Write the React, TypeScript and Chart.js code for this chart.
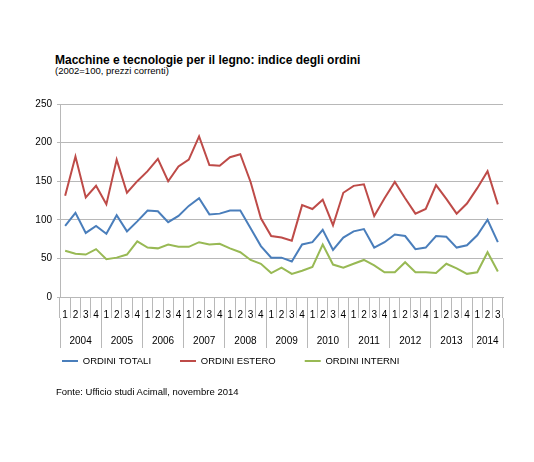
import React, { useEffect, useRef } from "react";
import { Chart, registerables } from "chart.js";

Chart.register(...registerables);

const FONT = '"Liberation Sans", Arial, sans-serif';

const years = ["2004", "2005", "2006", "2007", "2008", "2009", "2010", "2011", "2012", "2013", "2014"];
const quartersPerYear = [4, 4, 4, 4, 4, 4, 4, 4, 4, 4, 3];
const quarterLabels = quartersPerYear.flatMap((n) => ["1", "2", "3", "4"].slice(0, n));

const ordiniTotali = [92, 109, 83, 92, 82, 106, 85, 98, 112, 111, 97, 105, 118, 128, 107, 108, 112, 112, 89, 66, 51, 51, 46, 68, 71, 87, 61, 77, 85, 88, 64, 71, 81, 79, 62, 64, 79, 78, 64, 67, 80, 100, 71];
const ordiniEstero = [131, 182, 129, 144, 120, 178, 135, 150, 163, 179, 150, 169, 178, 208, 171, 170, 181, 185, 149, 102, 79, 77, 73, 119, 114, 126, 93, 135, 144, 146, 105, 128, 149, 128, 108, 114, 145, 127, 108, 121, 141, 163, 120];
const ordiniInterni = [60, 56, 55, 62, 49, 51, 55, 72, 64, 63, 68, 65, 65, 71, 68, 69, 63, 58, 48, 43, 31, 38, 30, 34, 39, 68, 42, 38, 43, 48, 41, 32, 32, 45, 32, 32, 31, 43, 37, 30, 32, 58, 33];

const GRID = "#b8b8b8";

// year boundaries and year midpoints, in category-index units
const boundaries: number[] = [];
const midpoints = new Map<number, string>();
{
  let start = -0.5;
  years.forEach((y, i) => {
    boundaries.push(start);
    midpoints.set(start + quartersPerYear[i] / 2, y);
    start += quartersPerYear[i];
  });
  boundaries.push(start);
}

const App: React.FC = () => {
  const canvasRef = useRef<HTMLCanvasElement>(null);

  useEffect(() => {
    const ctx = canvasRef.current?.getContext("2d");
    if (!ctx) return;

    const chart = new Chart(ctx, {
      type: "line",
      data: {
        labels: quarterLabels,
        datasets: [
          { label: "ORDINI TOTALI", data: ordiniTotali, borderColor: "#4a7ebb", backgroundColor: "#4a7ebb" },
          { label: "ORDINI ESTERO", data: ordiniEstero, borderColor: "#be4b48", backgroundColor: "#be4b48" },
          { label: "ORDINI INTERNI", data: ordiniInterni, borderColor: "#98b954", backgroundColor: "#98b954" },
        ],
      },
      options: {
        responsive: false,
        animation: false,
        layout: { padding: { left: 33, top: 104, right: 31, bottom: 86.25 } },
        elements: { line: { borderWidth: 2, tension: 0 }, point: { radius: 0 } },
        scales: {
          x: {
            type: "category",
            offset: true,
            grid: { offset: true, drawOnChartArea: false, tickLength: 21, color: GRID },
            border: { color: GRID },
            ticks: { autoSkip: false, maxRotation: 0, padding: -9, color: "#000", font: { size: 10, family: FONT } },
            afterFit: (scale) => { scale.height = 21; },
          },
          x2: {
            type: "linear",
            position: "bottom",
            min: -0.5,
            max: quarterLabels.length - 0.5,
            afterBuildTicks: (axis) => {
              const t: { value: number }[] = [];
              boundaries.forEach((b, i) => {
                t.push({ value: b });
                if (i < years.length) t.push({ value: b + quartersPerYear[i] / 2 });
              });
              axis.ticks = t;
            },
            grid: {
              drawOnChartArea: false,
              tickLength: 30,
              color: (c) => (boundaries.includes(c.tick?.value) ? GRID : "rgba(255,255,255,0)"),
            },
            border: { display: false },
            ticks: {
              autoSkip: false,
              maxRotation: 0,
              mirror: true, // keeps the year labels from being clipped to the short axis box
              padding: -29,
              color: "#000",
              font: { size: 10, family: FONT },
              callback: (v) => midpoints.get(Number(v)) ?? "",
            },
            afterFit: (scale) => { scale.height = 9.25; },
          },
          y: {
            min: 0,
            max: 250,
            ticks: { stepSize: 50, padding: 5, color: "#000", font: { size: 10, family: FONT } },
            grid: { color: GRID, tickLength: 3 },
            border: { color: GRID },
            afterFit: (scale) => { scale.width = 27; },
          },
        },
        plugins: {
          legend: {
            position: "bottom",
            align: "start",
            labels: { boxWidth: 16, boxHeight: 0, padding: 29, color: "#000", font: { size: 9.5, family: FONT } },
          },
          tooltip: { enabled: false },
        },
      },
    });
    return () => chart.destroy();
  }, []);

  return (
    <div style={{ position: "absolute", left: 0, top: 0, width: 534, height: 462, background: "#fff", fontFamily: FONT, color: "#000" }}>
      <div style={{ position: "absolute", left: 55, top: 53, fontSize: 12, fontWeight: "bold", lineHeight: "14px", whiteSpace: "nowrap" }}>
        Macchine e tecnologie per il legno: indice degli ordini
      </div>
      <div style={{ position: "absolute", left: 55, top: 65, fontSize: 9.5, lineHeight: "11px", whiteSpace: "nowrap" }}>
        (2002=100, prezzi correnti)
      </div>
      <canvas ref={canvasRef} width={534} height={462} style={{ position: "absolute", left: 0, top: 0 }}></canvas>
      <div style={{ position: "absolute", left: 56, top: 385.5, fontSize: 9.5, lineHeight: "11px", whiteSpace: "nowrap" }}>
        Fonte: Ufficio studi Acimall, novembre 2014
      </div>
    </div>
  );
};

export default App;
